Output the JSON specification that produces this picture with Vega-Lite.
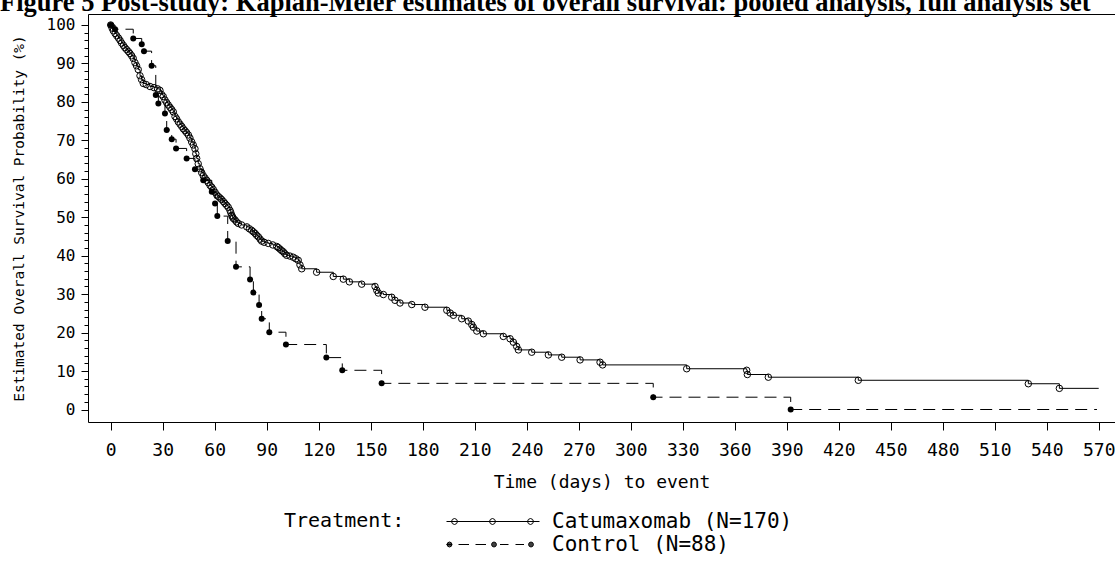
{
  "$schema": "https://vega.github.io/schema/vega-lite/v6.json",
  "autosize": {"type": "none"},
  "padding": {"left": 88, "top": 14, "right": 0, "bottom": 140},
  "width": 1027,
  "height": 408,
  "background": "white",
  "title": {"text": "Figure 5 Post-study: Kaplan-Meier estimates of overall survival: pooled analysis, full analysis set", "font": "Liberation Serif", "fontSize": 26.5, "fontWeight": "bold", "anchor": "start", "frame": "group", "dx": -88, "dy": 23, "offset": 0, "baseline": "alphabetic", "color": "black"},
  "config": {"view": {"stroke": null}, "font": "DejaVu Sans Mono", "axis": {"grid": false, "domainColor": "black", "tickColor": "black", "labelColor": "black", "titleColor": "black", "titleFontWeight": "normal", "labelFlush": false, "labelOverlap": false}},
  "data": {"values": [
    {"Treatment": "Catumaxomab (N=170)", "days": 0, "surv": 100, "marker": 1},
    {"Treatment": "Catumaxomab (N=170)", "days": 0.8, "surv": 99.2, "marker": 1},
    {"Treatment": "Catumaxomab (N=170)", "days": 1.5, "surv": 98.5, "marker": 1},
    {"Treatment": "Catumaxomab (N=170)", "days": 2.5, "surv": 97.8, "marker": 1},
    {"Treatment": "Catumaxomab (N=170)", "days": 3.5, "surv": 97.2, "marker": 1},
    {"Treatment": "Catumaxomab (N=170)", "days": 4.5, "surv": 96.6, "marker": 1},
    {"Treatment": "Catumaxomab (N=170)", "days": 5.4, "surv": 96.0, "marker": 1},
    {"Treatment": "Catumaxomab (N=170)", "days": 6.3, "surv": 95.3, "marker": 1},
    {"Treatment": "Catumaxomab (N=170)", "days": 7.3, "surv": 94.7, "marker": 1},
    {"Treatment": "Catumaxomab (N=170)", "days": 8.2, "surv": 94.1, "marker": 1},
    {"Treatment": "Catumaxomab (N=170)", "days": 9.2, "surv": 93.6, "marker": 1},
    {"Treatment": "Catumaxomab (N=170)", "days": 10.2, "surv": 93.1, "marker": 1},
    {"Treatment": "Catumaxomab (N=170)", "days": 11.1, "surv": 92.6, "marker": 1},
    {"Treatment": "Catumaxomab (N=170)", "days": 12.1, "surv": 92.0, "marker": 1},
    {"Treatment": "Catumaxomab (N=170)", "days": 13.0, "surv": 91.3, "marker": 1},
    {"Treatment": "Catumaxomab (N=170)", "days": 14.0, "surv": 90.2, "marker": 1},
    {"Treatment": "Catumaxomab (N=170)", "days": 14.9, "surv": 89.4, "marker": 1},
    {"Treatment": "Catumaxomab (N=170)", "days": 15.9, "surv": 88.4, "marker": 1},
    {"Treatment": "Catumaxomab (N=170)", "days": 16.9, "surv": 86.8, "marker": 1},
    {"Treatment": "Catumaxomab (N=170)", "days": 17.8, "surv": 85.8, "marker": 1},
    {"Treatment": "Catumaxomab (N=170)", "days": 18.8, "surv": 84.8, "marker": 1},
    {"Treatment": "Catumaxomab (N=170)", "days": 20.5, "surv": 84.5, "marker": 1},
    {"Treatment": "Catumaxomab (N=170)", "days": 22.7, "surv": 84.0, "marker": 1},
    {"Treatment": "Catumaxomab (N=170)", "days": 25.0, "surv": 83.7, "marker": 1},
    {"Treatment": "Catumaxomab (N=170)", "days": 27.0, "surv": 83.4, "marker": 1},
    {"Treatment": "Catumaxomab (N=170)", "days": 28.4, "surv": 83.0, "marker": 1},
    {"Treatment": "Catumaxomab (N=170)", "days": 29.4, "surv": 81.9, "marker": 1},
    {"Treatment": "Catumaxomab (N=170)", "days": 30.3, "surv": 81.4, "marker": 1},
    {"Treatment": "Catumaxomab (N=170)", "days": 31.3, "surv": 80.5, "marker": 1},
    {"Treatment": "Catumaxomab (N=170)", "days": 32.3, "surv": 79.8, "marker": 1},
    {"Treatment": "Catumaxomab (N=170)", "days": 33.2, "surv": 79.2, "marker": 1},
    {"Treatment": "Catumaxomab (N=170)", "days": 34.2, "surv": 78.6, "marker": 1},
    {"Treatment": "Catumaxomab (N=170)", "days": 35.2, "surv": 78.0, "marker": 1},
    {"Treatment": "Catumaxomab (N=170)", "days": 36.1, "surv": 77.4, "marker": 1},
    {"Treatment": "Catumaxomab (N=170)", "days": 37.1, "surv": 76.2, "marker": 1},
    {"Treatment": "Catumaxomab (N=170)", "days": 38.0, "surv": 75.6, "marker": 1},
    {"Treatment": "Catumaxomab (N=170)", "days": 39.0, "surv": 74.8, "marker": 1},
    {"Treatment": "Catumaxomab (N=170)", "days": 40.0, "surv": 74.2, "marker": 1},
    {"Treatment": "Catumaxomab (N=170)", "days": 41.0, "surv": 73.6, "marker": 1},
    {"Treatment": "Catumaxomab (N=170)", "days": 41.9, "surv": 73.0, "marker": 1},
    {"Treatment": "Catumaxomab (N=170)", "days": 42.9, "surv": 72.5, "marker": 1},
    {"Treatment": "Catumaxomab (N=170)", "days": 43.8, "surv": 72.0, "marker": 1},
    {"Treatment": "Catumaxomab (N=170)", "days": 44.8, "surv": 71.4, "marker": 1},
    {"Treatment": "Catumaxomab (N=170)", "days": 45.7, "surv": 70.6, "marker": 1},
    {"Treatment": "Catumaxomab (N=170)", "days": 46.7, "surv": 69.6, "marker": 1},
    {"Treatment": "Catumaxomab (N=170)", "days": 47.6, "surv": 68.8, "marker": 1},
    {"Treatment": "Catumaxomab (N=170)", "days": 48.6, "surv": 67.8, "marker": 1},
    {"Treatment": "Catumaxomab (N=170)", "days": 49.1, "surv": 66.5, "marker": 1},
    {"Treatment": "Catumaxomab (N=170)", "days": 49.6, "surv": 65.3, "marker": 1},
    {"Treatment": "Catumaxomab (N=170)", "days": 50.5, "surv": 63.9, "marker": 1},
    {"Treatment": "Catumaxomab (N=170)", "days": 51.5, "surv": 62.6, "marker": 1},
    {"Treatment": "Catumaxomab (N=170)", "days": 52.5, "surv": 61.6, "marker": 1},
    {"Treatment": "Catumaxomab (N=170)", "days": 53.4, "surv": 60.8, "marker": 1},
    {"Treatment": "Catumaxomab (N=170)", "days": 54.4, "surv": 60.2, "marker": 1},
    {"Treatment": "Catumaxomab (N=170)", "days": 55.4, "surv": 59.6, "marker": 1},
    {"Treatment": "Catumaxomab (N=170)", "days": 56.3, "surv": 59.0, "marker": 1},
    {"Treatment": "Catumaxomab (N=170)", "days": 57.3, "surv": 58.3, "marker": 1},
    {"Treatment": "Catumaxomab (N=170)", "days": 58.3, "surv": 57.8, "marker": 1},
    {"Treatment": "Catumaxomab (N=170)", "days": 59.2, "surv": 57.2, "marker": 1},
    {"Treatment": "Catumaxomab (N=170)", "days": 60.2, "surv": 56.5, "marker": 1},
    {"Treatment": "Catumaxomab (N=170)", "days": 61.2, "surv": 55.8, "marker": 1},
    {"Treatment": "Catumaxomab (N=170)", "days": 62.1, "surv": 55.4, "marker": 1},
    {"Treatment": "Catumaxomab (N=170)", "days": 63.1, "surv": 55.0, "marker": 1},
    {"Treatment": "Catumaxomab (N=170)", "days": 64.0, "surv": 54.6, "marker": 1},
    {"Treatment": "Catumaxomab (N=170)", "days": 65.0, "surv": 54.1, "marker": 1},
    {"Treatment": "Catumaxomab (N=170)", "days": 65.9, "surv": 53.6, "marker": 1},
    {"Treatment": "Catumaxomab (N=170)", "days": 66.9, "surv": 53.1, "marker": 1},
    {"Treatment": "Catumaxomab (N=170)", "days": 67.8, "surv": 52.6, "marker": 1},
    {"Treatment": "Catumaxomab (N=170)", "days": 68.8, "surv": 51.8, "marker": 1},
    {"Treatment": "Catumaxomab (N=170)", "days": 69.3, "surv": 51.2, "marker": 1},
    {"Treatment": "Catumaxomab (N=170)", "days": 69.8, "surv": 50.5, "marker": 1},
    {"Treatment": "Catumaxomab (N=170)", "days": 70.3, "surv": 50.1, "marker": 1},
    {"Treatment": "Catumaxomab (N=170)", "days": 70.7, "surv": 49.7, "marker": 1},
    {"Treatment": "Catumaxomab (N=170)", "days": 71.7, "surv": 49.3, "marker": 1},
    {"Treatment": "Catumaxomab (N=170)", "days": 72.6, "surv": 48.8, "marker": 1},
    {"Treatment": "Catumaxomab (N=170)", "days": 73.6, "surv": 48.4, "marker": 1},
    {"Treatment": "Catumaxomab (N=170)", "days": 75.5, "surv": 48.0, "marker": 1},
    {"Treatment": "Catumaxomab (N=170)", "days": 78.5, "surv": 47.5, "marker": 1},
    {"Treatment": "Catumaxomab (N=170)", "days": 80.0, "surv": 47.0, "marker": 1},
    {"Treatment": "Catumaxomab (N=170)", "days": 81.3, "surv": 46.6, "marker": 1},
    {"Treatment": "Catumaxomab (N=170)", "days": 82.3, "surv": 46.2, "marker": 1},
    {"Treatment": "Catumaxomab (N=170)", "days": 83.3, "surv": 45.8, "marker": 1},
    {"Treatment": "Catumaxomab (N=170)", "days": 84.2, "surv": 45.3, "marker": 1},
    {"Treatment": "Catumaxomab (N=170)", "days": 85.2, "surv": 44.9, "marker": 1},
    {"Treatment": "Catumaxomab (N=170)", "days": 86.2, "surv": 44.3, "marker": 1},
    {"Treatment": "Catumaxomab (N=170)", "days": 87.1, "surv": 43.8, "marker": 1},
    {"Treatment": "Catumaxomab (N=170)", "days": 88.5, "surv": 43.5, "marker": 1},
    {"Treatment": "Catumaxomab (N=170)", "days": 90.9, "surv": 43.2, "marker": 1},
    {"Treatment": "Catumaxomab (N=170)", "days": 93.5, "surv": 42.8, "marker": 1},
    {"Treatment": "Catumaxomab (N=170)", "days": 95.8, "surv": 42.4, "marker": 1},
    {"Treatment": "Catumaxomab (N=170)", "days": 96.7, "surv": 42.1, "marker": 1},
    {"Treatment": "Catumaxomab (N=170)", "days": 97.7, "surv": 41.7, "marker": 1},
    {"Treatment": "Catumaxomab (N=170)", "days": 98.7, "surv": 41.3, "marker": 1},
    {"Treatment": "Catumaxomab (N=170)", "days": 99.6, "surv": 41.0, "marker": 1},
    {"Treatment": "Catumaxomab (N=170)", "days": 100.5, "surv": 40.5, "marker": 1},
    {"Treatment": "Catumaxomab (N=170)", "days": 101.5, "surv": 40.1, "marker": 1},
    {"Treatment": "Catumaxomab (N=170)", "days": 103.4, "surv": 39.9, "marker": 1},
    {"Treatment": "Catumaxomab (N=170)", "days": 105.3, "surv": 39.6, "marker": 1},
    {"Treatment": "Catumaxomab (N=170)", "days": 106.8, "surv": 39.2, "marker": 1},
    {"Treatment": "Catumaxomab (N=170)", "days": 108.2, "surv": 38.8, "marker": 1},
    {"Treatment": "Catumaxomab (N=170)", "days": 109.2, "surv": 37.6, "marker": 1},
    {"Treatment": "Catumaxomab (N=170)", "days": 110.2, "surv": 36.6, "marker": 1},
    {"Treatment": "Catumaxomab (N=170)", "days": 118.8, "surv": 35.7, "marker": 1},
    {"Treatment": "Catumaxomab (N=170)", "days": 128.4, "surv": 34.6, "marker": 1},
    {"Treatment": "Catumaxomab (N=170)", "days": 134.2, "surv": 33.9, "marker": 1},
    {"Treatment": "Catumaxomab (N=170)", "days": 137.7, "surv": 33.2, "marker": 1},
    {"Treatment": "Catumaxomab (N=170)", "days": 144.8, "surv": 32.6, "marker": 1},
    {"Treatment": "Catumaxomab (N=170)", "days": 152.5, "surv": 32.0, "marker": 1},
    {"Treatment": "Catumaxomab (N=170)", "days": 153.5, "surv": 31.0, "marker": 1},
    {"Treatment": "Catumaxomab (N=170)", "days": 154.4, "surv": 30.3, "marker": 1},
    {"Treatment": "Catumaxomab (N=170)", "days": 157.3, "surv": 29.9, "marker": 1},
    {"Treatment": "Catumaxomab (N=170)", "days": 162.1, "surv": 29.2, "marker": 1},
    {"Treatment": "Catumaxomab (N=170)", "days": 164.0, "surv": 28.4, "marker": 1},
    {"Treatment": "Catumaxomab (N=170)", "days": 166.9, "surv": 27.7, "marker": 1},
    {"Treatment": "Catumaxomab (N=170)", "days": 173.7, "surv": 27.3, "marker": 1},
    {"Treatment": "Catumaxomab (N=170)", "days": 181.3, "surv": 26.6, "marker": 1},
    {"Treatment": "Catumaxomab (N=170)", "days": 193.9, "surv": 25.8, "marker": 1},
    {"Treatment": "Catumaxomab (N=170)", "days": 195.8, "surv": 25.1, "marker": 1},
    {"Treatment": "Catumaxomab (N=170)", "days": 197.7, "surv": 24.5, "marker": 1},
    {"Treatment": "Catumaxomab (N=170)", "days": 202.5, "surv": 23.6, "marker": 1},
    {"Treatment": "Catumaxomab (N=170)", "days": 206.3, "surv": 23.0, "marker": 1},
    {"Treatment": "Catumaxomab (N=170)", "days": 208.3, "surv": 22.1, "marker": 1},
    {"Treatment": "Catumaxomab (N=170)", "days": 209.2, "surv": 21.4, "marker": 1},
    {"Treatment": "Catumaxomab (N=170)", "days": 211.2, "surv": 20.4, "marker": 1},
    {"Treatment": "Catumaxomab (N=170)", "days": 215.0, "surv": 19.7, "marker": 1},
    {"Treatment": "Catumaxomab (N=170)", "days": 226.5, "surv": 19.0, "marker": 1},
    {"Treatment": "Catumaxomab (N=170)", "days": 230.4, "surv": 18.4, "marker": 1},
    {"Treatment": "Catumaxomab (N=170)", "days": 232.3, "surv": 17.5, "marker": 1},
    {"Treatment": "Catumaxomab (N=170)", "days": 234.2, "surv": 16.4, "marker": 1},
    {"Treatment": "Catumaxomab (N=170)", "days": 235.2, "surv": 15.5, "marker": 1},
    {"Treatment": "Catumaxomab (N=170)", "days": 242.9, "surv": 14.9, "marker": 1},
    {"Treatment": "Catumaxomab (N=170)", "days": 252.5, "surv": 14.2, "marker": 1},
    {"Treatment": "Catumaxomab (N=170)", "days": 260.2, "surv": 13.6, "marker": 1},
    {"Treatment": "Catumaxomab (N=170)", "days": 270.8, "surv": 12.9, "marker": 1},
    {"Treatment": "Catumaxomab (N=170)", "days": 282.3, "surv": 12.3, "marker": 1},
    {"Treatment": "Catumaxomab (N=170)", "days": 283.8, "surv": 11.6, "marker": 1},
    {"Treatment": "Catumaxomab (N=170)", "days": 332.3, "surv": 10.6, "marker": 1},
    {"Treatment": "Catumaxomab (N=170)", "days": 366.9, "surv": 10.2, "marker": 1},
    {"Treatment": "Catumaxomab (N=170)", "days": 367.3, "surv": 9.1, "marker": 1},
    {"Treatment": "Catumaxomab (N=170)", "days": 379.4, "surv": 8.4, "marker": 1},
    {"Treatment": "Catumaxomab (N=170)", "days": 431.3, "surv": 7.6, "marker": 1},
    {"Treatment": "Catumaxomab (N=170)", "days": 529.4, "surv": 6.7, "marker": 1},
    {"Treatment": "Catumaxomab (N=170)", "days": 547.3, "surv": 5.5, "marker": 1},
    {"Treatment": "Catumaxomab (N=170)", "days": 570, "surv": 5.5, "marker": 0},
    {"Treatment": "Control (N=88)", "days": 0, "surv": 100, "marker": 1},
    {"Treatment": "Control (N=88)", "days": 2.5, "surv": 98.9, "marker": 1},
    {"Treatment": "Control (N=88)", "days": 13.0, "surv": 96.5, "marker": 1},
    {"Treatment": "Control (N=88)", "days": 17.9, "surv": 95.0, "marker": 1},
    {"Treatment": "Control (N=88)", "days": 19.2, "surv": 93.2, "marker": 1},
    {"Treatment": "Control (N=88)", "days": 23.6, "surv": 89.4, "marker": 1},
    {"Treatment": "Control (N=88)", "days": 26.0, "surv": 81.8, "marker": 1},
    {"Treatment": "Control (N=88)", "days": 27.5, "surv": 79.6, "marker": 1},
    {"Treatment": "Control (N=88)", "days": 31.3, "surv": 77.0, "marker": 1},
    {"Treatment": "Control (N=88)", "days": 32.3, "surv": 72.7, "marker": 1},
    {"Treatment": "Control (N=88)", "days": 35.2, "surv": 70.3, "marker": 1},
    {"Treatment": "Control (N=88)", "days": 37.7, "surv": 67.9, "marker": 1},
    {"Treatment": "Control (N=88)", "days": 43.8, "surv": 65.3, "marker": 1},
    {"Treatment": "Control (N=88)", "days": 48.6, "surv": 62.5, "marker": 1},
    {"Treatment": "Control (N=88)", "days": 53.4, "surv": 59.6, "marker": 1},
    {"Treatment": "Control (N=88)", "days": 58.3, "surv": 56.6, "marker": 1},
    {"Treatment": "Control (N=88)", "days": 60.2, "surv": 53.6, "marker": 1},
    {"Treatment": "Control (N=88)", "days": 61.5, "surv": 50.3, "marker": 1},
    {"Treatment": "Control (N=88)", "days": 67.5, "surv": 43.8, "marker": 1},
    {"Treatment": "Control (N=88)", "days": 72.3, "surv": 37.1, "marker": 1},
    {"Treatment": "Control (N=88)", "days": 80.4, "surv": 33.8, "marker": 1},
    {"Treatment": "Control (N=88)", "days": 82.3, "surv": 30.4, "marker": 1},
    {"Treatment": "Control (N=88)", "days": 85.6, "surv": 27.2, "marker": 1},
    {"Treatment": "Control (N=88)", "days": 87.1, "surv": 23.6, "marker": 1},
    {"Treatment": "Control (N=88)", "days": 91.5, "surv": 20.1, "marker": 1},
    {"Treatment": "Control (N=88)", "days": 101.1, "surv": 16.9, "marker": 1},
    {"Treatment": "Control (N=88)", "days": 124.4, "surv": 13.5, "marker": 1},
    {"Treatment": "Control (N=88)", "days": 133.6, "surv": 10.2, "marker": 1},
    {"Treatment": "Control (N=88)", "days": 156.3, "surv": 6.8, "marker": 1},
    {"Treatment": "Control (N=88)", "days": 313.0, "surv": 3.2, "marker": 1},
    {"Treatment": "Control (N=88)", "days": 392.3, "surv": 0, "marker": 1},
    {"Treatment": "Control (N=88)", "days": 569, "surv": 0, "marker": 0}
  ]},
  "resolve": {"axis": {"x": "independent", "y": "independent"}},
  "layer": [
    {
      "transform": [{"filter": "datum.Treatment == 'Catumaxomab (N=170)'"}],
      "mark": {"type": "line", "interpolate": "step-after", "color": "black", "strokeWidth": 1},
      "encoding": {
        "x": {"field": "days", "type": "quantitative", "scale": {"domain": [-13.1, 579.4], "nice": false, "zero": false},
          "axis": {"orient": "bottom", "values": [0,30,60,90,120,150,180,210,240,270,300,330,360,390,420,450,480,510,540,570], "tickSize": 8, "labelFontSize": 18, "labelPadding": 11, "title": "Time (days) to event", "titleFontSize": 18, "titlePadding": 14}},
        "y": {"field": "surv", "type": "quantitative", "scale": {"domain": [-3.25, 102.86], "nice": false, "zero": false},
          "axis": {"orient": "left", "values": [0,10,20,30,40,50,60,70,80,90,100], "tickSize": 7, "labelFontSize": 16, "labelPadding": 6, "title": "Estimated Overall Survival Probability (%)", "titleFontSize": 14.5, "titlePadding": 20}}
      }
    },
    {
      "transform": [{"filter": "datum.Treatment == 'Control (N=88)'"}],
      "mark": {"type": "line", "interpolate": "step-after", "color": "black", "strokeWidth": 1, "strokeDash": [12, 7]},
      "encoding": {
        "x": {"field": "days", "type": "quantitative", "axis": null},
        "y": {"field": "surv", "type": "quantitative", "axis": null}
      }
    },
    {
      "transform": [{"filter": "datum.marker == 1 && datum.Treatment == 'Catumaxomab (N=170)'"}],
      "mark": {"type": "point", "shape": "circle", "filled": false, "stroke": "black", "strokeWidth": 1, "size": 42, "opacity": 1},
      "encoding": {
        "x": {"field": "days", "type": "quantitative", "axis": {"orient": "top", "labels": false, "ticks": false, "title": null, "domain": true}},
        "y": {"field": "surv", "type": "quantitative", "axis": {"orient": "left", "values": [0,2,4,6,8,10,12,14,16,18,20,22,24,26,28,30,32,34,36,38,40,42,44,46,48,50,52,54,56,58,60,62,64,66,68,70,72,74,76,78,80,82,84,86,88,90,92,94,96,98,100], "tickSize": 4, "labels": false, "title": null, "domain": false}}
      }
    },
    {
      "transform": [{"filter": "datum.marker == 1 && datum.Treatment == 'Control (N=88)'"}],
      "mark": {"type": "point", "shape": "circle", "filled": true, "color": "black", "size": 36, "opacity": 1},
      "encoding": {
        "x": {"field": "days", "type": "quantitative", "axis": null},
        "y": {"field": "surv", "type": "quantitative", "axis": null}
      }
    },
    {
      "mark": {"type": "point", "filled": false, "stroke": "black", "strokeWidth": 1, "opacity": 0},
      "encoding": {
        "x": {"field": "days", "type": "quantitative", "axis": null},
        "y": {"field": "surv", "type": "quantitative", "axis": null},
        "shape": {"field": "Treatment", "type": "nominal",
          "scale": {"domain": ["Catumaxomab (N=170)", "Control (N=88)"], "range": [
            "M-1,0L17.6,0M1.2,0L1.02,0.42L0.6,0.6L0.18,0.42L0,0L0.18,-0.42L0.6,-0.6L1.02,-0.42ZM8.8,0L8.62,0.42L8.2,0.6L7.78,0.42L7.6,0L7.78,-0.42L8.2,-0.6L8.62,-0.42ZM16.4,0L16.22,0.42L15.8,0.6L15.38,0.42L15.2,0L15.38,-0.42L15.8,-0.6L16.22,-0.42Z",
            "M-1,0L0.1,0M0.1,0L-0.05,0.35L-0.4,0.5L-0.75,0.35L-0.9,0L-0.75,-0.35L-0.4,-0.5L-0.05,-0.35ZM-0.84,-0.1L0.04,-0.1M-0.84,0.1L0.04,0.1M-0.76,-0.3L-0.04,-0.3M-0.76,0.3L-0.04,0.3M1.4,0L3.5,0M4.8,0L6.9,0M9,0L8.85,0.35L8.5,0.5L8.15,0.35L8,0L8.15,-0.35L8.5,-0.5L8.85,-0.35ZM8.06,-0.1L8.94,-0.1M8.06,0.1L8.94,0.1M8.14,-0.3L8.86,-0.3M8.14,0.3L8.86,0.3M9.7,0L11.4,0M12.8,0L14.5,0M16.4,0L16.25,0.35L15.9,0.5L15.55,0.35L15.4,0L15.55,-0.35L15.9,-0.5L16.25,-0.35ZM15.46,-0.1L16.34,-0.1M15.46,0.1L16.34,0.1M15.54,-0.3L16.26,-0.3M15.54,0.3L16.26,0.3"]},
          "legend": {"title": "Treatment:", "orient": "none", "legendX": 196, "legendY": 497, "direction": "vertical", "titleOrient": "left", "titleFontSize": 20, "titleFontWeight": "normal", "titlePadding": 36, "titleAnchor": "start", "titleBaseline": "top", "titleColor": "black", "labelFontSize": 21, "labelColor": "black", "labelOffset": 90, "labelLimit": 400, "symbolSize": 100, "symbolStrokeWidth": 1, "symbolStrokeColor": "black", "symbolFillColor": "transparent", "symbolOpacity": 1, "rowPadding": 1, "padding": 0, "zindex": 1}}
      }
    }
  ]
}
